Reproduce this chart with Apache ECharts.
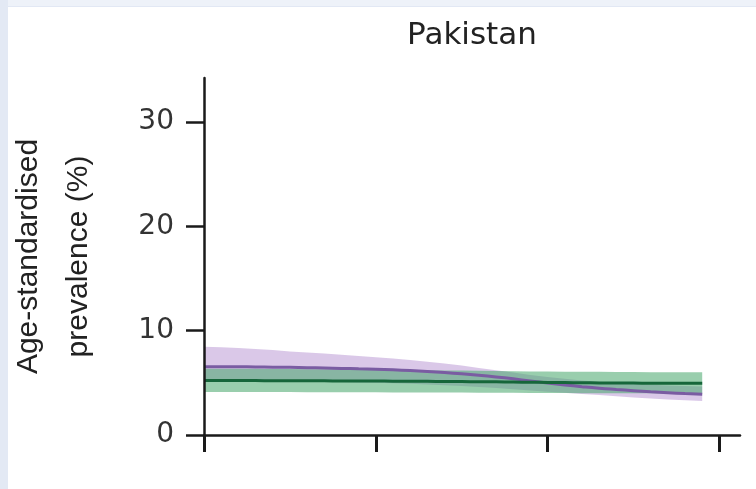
<!DOCTYPE html>
<html>
<head>
<meta charset="utf-8">
<script src="https://cdn.jsdelivr.net/npm/echarts@6/dist/echarts.min.js"></script>
<style>
  html, body { margin: 0; padding: 0; background: #ffffff; }
  #frame { position: absolute; left: 0; top: 0; width: 756px; height: 489px; background: #e3e9f4; }
  #topstrip { position: absolute; left: 8px; top: 0; width: 748px; height: 7px; background: #eef2f9; border-bottom: 1px solid #e2e8f4; box-sizing: border-box; }
  #chart { position: absolute; left: 8px; top: 7px; width: 748px; height: 482px; background: #ffffff; }
</style>
</head>
<body>
<div id="frame"></div>
<div id="topstrip"></div>
<div id="chart"></div>
<script>
// ---- data ----
const years = [1980,1981,1982,1983,1984,1985,1986,1987,1988,1989,1990,1991,1992,1993,1994,1995,1996,1997,1998,1999,2000,2001,2002,2003,2004,2005,2006,2007,2008,2009];

const purpleMean  = [6.55,6.55,6.54,6.52,6.50,6.48,6.45,6.42,6.38,6.34,6.30,6.24,6.17,6.08,5.98,5.86,5.72,5.56,5.38,5.18,4.98,4.80,4.63,4.48,4.36,4.25,4.14,4.05,3.97,3.90];
const purpleUpper = [8.45,8.40,8.33,8.25,8.15,8.00,7.90,7.80,7.68,7.56,7.44,7.32,7.18,7.02,6.85,6.65,6.42,6.20,5.98,5.75,5.55,5.38,5.23,5.10,5.00,4.90,4.82,4.75,4.70,4.65];
const purpleLower = [5.20,5.20,5.19,5.18,5.17,5.15,5.13,5.10,5.07,5.04,5.00,4.95,4.90,4.84,4.77,4.70,4.60,4.50,4.39,4.27,4.15,4.04,3.93,3.82,3.71,3.60,3.50,3.41,3.33,3.25];

const greenMean  = [5.22,5.22,5.21,5.21,5.20,5.20,5.19,5.19,5.18,5.18,5.17,5.16,5.15,5.14,5.13,5.12,5.10,5.09,5.07,5.05,5.04,5.02,5.00,4.99,4.98,4.97,4.96,4.96,4.95,4.95];
const greenUpper = [6.35,6.35,6.34,6.34,6.33,6.32,6.31,6.30,6.29,6.28,6.27,6.25,6.23,6.21,6.19,6.17,6.15,6.13,6.11,6.09,6.08,6.07,6.06,6.05,6.04,6.03,6.02,6.01,6.00,6.00];
const greenLower = [4.12,4.12,4.12,4.11,4.11,4.11,4.10,4.10,4.10,4.09,4.09,4.08,4.08,4.07,4.07,4.06,4.05,4.05,4.04,4.03,4.02,4.02,4.01,4.00,4.00,3.99,3.99,3.98,3.98,3.97];

const xTicks = [1980, 1990, 2000, 2010];
const yTicks = [0, 10, 20, 30];

const titleText = 'Pakistan';
const yAxisTitle = 'Age-standardised\nprevalence (%)';

// ---- build ----
const pairs = (vals) => years.map((y, i) => [y, vals[i]]);

// band drawn as one polygon through the chart's own coordinate system
function bandSeries(lower, upper, color) {
  return {
    type: 'custom',
    silent: true,
    data: years.map((y, i) => [y, lower[i], upper[i]]),
    encode: { x: 0, y: [1, 2] },
    renderItem: function (params, api) {
      if (params.dataIndex !== 0) return null;
      const top = years.map((y, i) => api.coord([y, upper[i]]));
      const bot = years.map((y, i) => api.coord([y, lower[i]])).reverse();
      return {
        type: 'polygon',
        shape: { points: top.concat(bot) },
        style: { fill: color }
      };
    }
  };
}

const chart = echarts.init(document.getElementById('chart'), null, { renderer: 'canvas' });

const axisCol = '#1a1a1a';

chart.setOption({
  animation: false,
  backgroundColor: '#ffffff',
  title: {
    text: titleText,
    left: 459,
    top: 8,
    textAlign: 'center',
    textStyle: { fontFamily: 'DejaVu Sans', fontSize: 31, fontWeight: 'normal', color: '#222222' }
  },
  grid: { left: 196, right: 16, top: 71, bottom: 54, containLabel: false, outerBoundsMode: 'none' },
  xAxis: {
    type: 'value',
    min: 1980,
    max: 2011.2,
    interval: 10,
    z: 10,
    splitLine: { show: false },
    axisLine: { show: true, onZero: false, lineStyle: { color: axisCol, width: 2.5 } },
    axisTick: { show: true, customValues: xTicks, length: 17, inside: false, lineStyle: { color: axisCol, width: 3 } },
    axisLabel: { show: false }
  },
  yAxis: {
    type: 'value',
    min: 0,
    max: 34.2,
    interval: 10,
    z: 10,
    splitLine: { show: false },
    axisLine: { show: true, onZero: false, lineStyle: { color: axisCol, width: 2.5 } },
    axisTick: { show: true, customValues: yTicks, length: 18, inside: false, lineStyle: { color: axisCol, width: 2.5 } },
    axisLabel: {
      show: true, customValues: yTicks, margin: 30,
      fontFamily: 'DejaVu Sans', fontSize: 28, color: '#333333'
    },
    name: yAxisTitle,
    nameLocation: 'middle',
    nameRotate: 90,
    nameGap: 100,
    nameTextStyle: { fontFamily: 'Liberation Sans', fontSize: 30, color: '#222222', lineHeight: 50, align: 'center' }
  },
  series: [
    bandSeries(purpleLower, purpleUpper, 'rgba(172,134,204,0.45)'),
    { type: 'line', name: 'purple', data: pairs(purpleMean), symbol: 'none', smooth: true,
      lineStyle: { color: '#7a5ca2', width: 3 } },
    bandSeries(greenLower, greenUpper, 'rgba(70,165,105,0.55)'),
    { type: 'line', name: 'green', data: pairs(greenMean), symbol: 'none', smooth: true,
      lineStyle: { color: '#16663a', width: 3 } }
  ]
});
</script>
</body>
</html>
